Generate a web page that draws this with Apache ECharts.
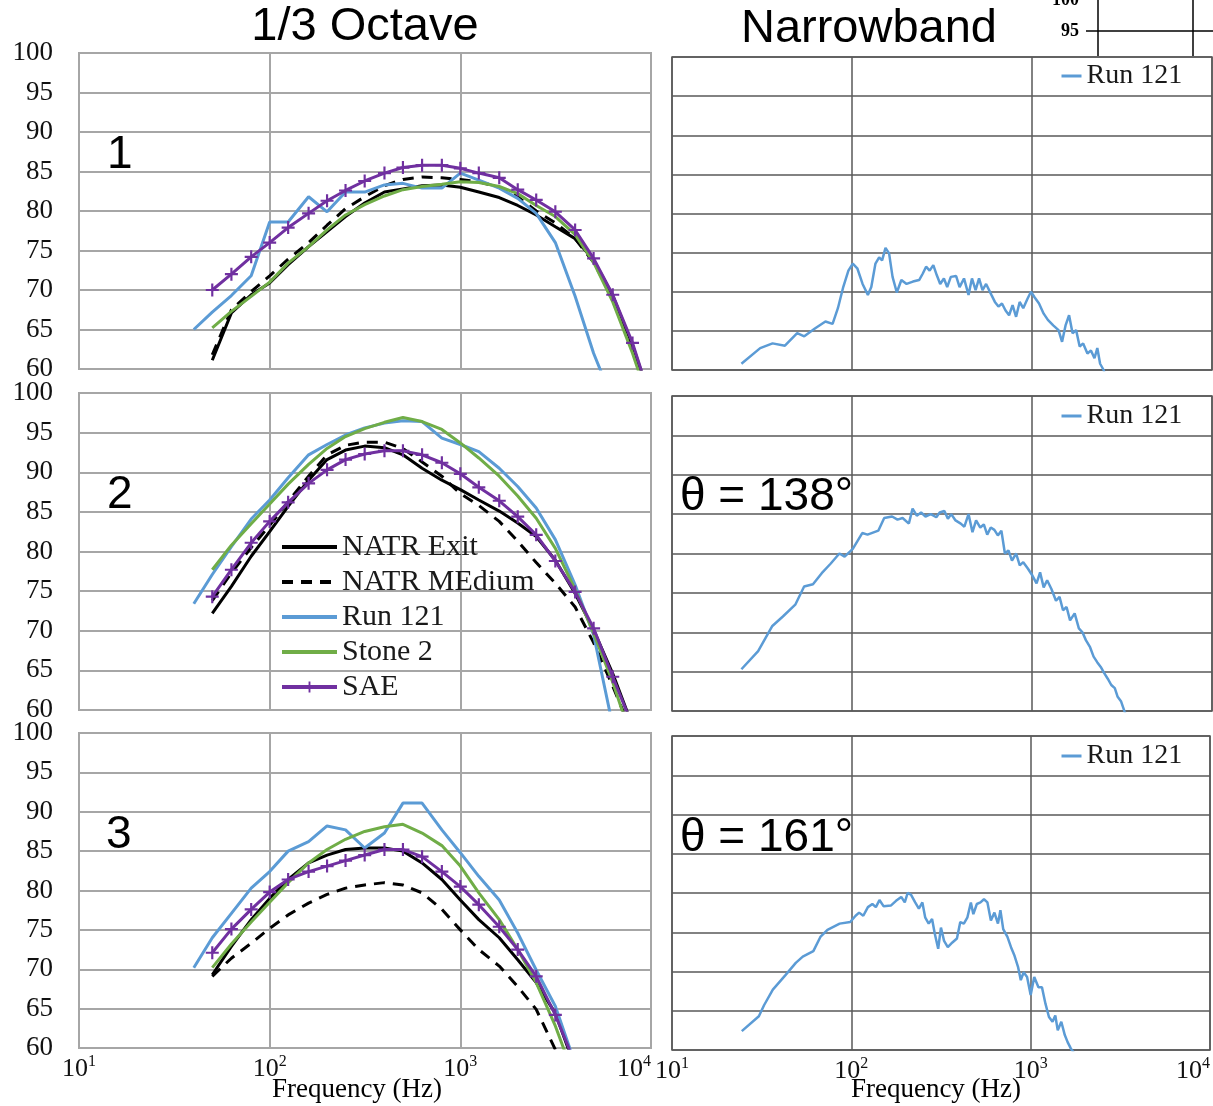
<!DOCTYPE html>
<html>
<head>
<meta charset="utf-8">
<script src="https://cdn.jsdelivr.net/npm/echarts@6/dist/echarts.min.js"></script>
<style>
  html, body { margin: 0; padding: 0; background: #fff; }
  #chart { width: 1213px; height: 1106px; }
</style>
</head>
<body>
<div id="chart"></div>
<script>
// 1/3 octave band centre frequencies (Hz)
const bands = [40, 50, 63, 80, 100, 125, 160, 200, 250, 315, 400, 500, 630, 800, 1000,
  1250, 1600, 2000, 2500, 3150, 4000, 5000, 6300, 8000, 10000];

// panel 1 (dB, null = no band value)
const natrExit1 = [null, 61.1, 67.1, 69.4, 70.9, 73.2, 75.5, 77.4, 79.3, 81.0, 82.4, 82.8, 83.2, 83.3, 83.0,
  82.4, 81.7, 80.7, 79.5, 78.0, 76.5, 73.8, 69.3, 63.0, 56.0];
const natrMedium1 = [null, 61.8, 67.5, 69.8, 71.8, 73.9, 76.0, 78.2, 80.3, 81.8, 83.2, 84.0, 84.3, 84.2, 84.0,
  83.7, 83.0, 81.8, 80.0, 78.5, 76.5, 73.5, 69.0, 62.5, 55.5];
const run121_1 = [65.0, 67.2, 69.3, 71.8, 78.6, 78.6, 81.8, 79.9, 82.4, 82.4, 83.3, 83.5, 82.9, 82.9, 84.8,
  83.9, 82.9, 81.6, 79.7, 76.0, 69.2, 62.0, 56.0, null, null];
const stone2_1 = [null, 65.2, 67.3, 69.2, 71.0, 73.4, 75.5, 77.6, 79.5, 80.8, 81.9, 82.7, 83.1, 83.4, 83.7,
  83.6, 83.1, 82.2, 80.7, 79.3, 77.0, 73.5, 68.5, 62.0, 55.0];
const sae1 = [null, 70.0, 72.0, 74.2, 76.0, 77.9, 79.7, 81.3, 82.6, 83.8, 84.8, 85.5, 85.8, 85.8, 85.4,
  84.8, 84.2, 82.7, 81.4, 79.9, 77.6, 74.0, 69.4, 63.3, 56.0];

// panel 2
const natrExit2 = [null, 72.2, 75.6, 79.4, 82.5, 85.7, 89.0, 91.6, 92.8, 93.3, 93.1, 92.2, 90.5, 89.0, 87.8,
  86.5, 85.1, 83.6, 81.9, 78.9, 74.7, 70.1, 64.6, 58.0, null];
const natrMedium2 = [null, 73.8, 77.3, 80.5, 83.3, 86.3, 89.5, 92.2, 93.4, 93.8, 93.8, 93.0, 91.3, 89.5, 87.3,
  85.8, 83.8, 81.3, 78.6, 76.0, 73.0, 68.5, 63.0, 57.0, null];
const run121_2 = [73.4, 77.1, 80.6, 84.1, 86.5, 89.3, 92.2, 93.5, 94.7, 95.6, 96.2, 96.5, 96.4, 94.3, 93.5,
  92.6, 90.5, 88.2, 85.5, 81.5, 75.8, 69.5, 58.0, null, null];
const stone2_2 = [null, 77.7, 80.8, 83.5, 86.0, 88.5, 91.0, 93.0, 94.5, 95.5, 96.3, 96.9, 96.4, 95.4, 93.7,
  91.8, 89.5, 87.0, 84.2, 80.4, 75.2, 69.7, 63.5, 56.0, null];
const sae2 = [null, 74.3, 77.7, 81.1, 83.8, 86.2, 88.6, 90.3, 91.6, 92.3, 92.7, 92.7, 92.2, 91.2, 89.8,
  88.1, 86.4, 84.4, 82.1, 78.8, 74.9, 70.3, 64.2, 58.0, null];

// panel 3
const natrExit3 = [null, 69.3, 72.9, 76.3, 79.0, 81.4, 83.5, 84.5, 85.2, 85.4, 85.4, 85.0, 83.5, 81.4, 78.8,
  76.3, 74.0, 71.2, 68.3, 64.4, 57.5, null, null, null, null];
const natrMedium3 = [null, 69.1, 71.4, 73.3, 75.2, 76.9, 78.4, 79.5, 80.3, 80.7, 81.0, 80.7, 79.7, 77.6, 75.0,
  72.5, 70.4, 67.8, 64.9, 59.8, 55.0, null, null, null, null];
const run121_3 = [70.2, 74.0, 77.1, 80.3, 82.4, 85.0, 86.2, 88.2, 87.7, 85.4, 87.3, 91.1, 91.1, 87.7, 84.8,
  81.8, 78.8, 74.6, 69.9, 65.3, 58.0, null, null, null, null];
const stone2_3 = [null, 70.2, 73.2, 76.0, 78.5, 81.0, 83.5, 85.2, 86.5, 87.5, 88.1, 88.4, 87.3, 85.7, 83.1,
  79.7, 76.3, 72.5, 68.3, 62.8, 56.0, null, null, null, null];
const sae3 = [null, 72.1, 75.1, 77.6, 79.8, 81.4, 82.4, 83.1, 83.8, 84.5, 85.2, 85.2, 84.3, 82.4, 80.5,
  78.2, 75.4, 72.5, 69.1, 64.2, 58.0, null, null, null, null];

// narrowband Run 121, panel 1
const nbFreq1 = [24.3, 30.9, 36.2, 42.4, 49.6, 54.3, 62.2, 71.2, 78, 83.5, 89.4, 95.5, 101, 107, 114.5, 122.5,
  128, 135, 141.5, 147, 153.5, 160.7, 168, 177.4, 188, 201, 218, 236, 247, 258, 270, 283, 296, 309, 324, 338,
  354, 379, 396, 419, 444, 464, 486, 508, 531, 556, 595, 622, 651, 681, 713, 746, 780, 816, 854, 894, 944,
  987, 1033, 1094, 1161, 1225, 1312, 1404, 1469, 1536, 1607, 1680, 1758, 1840, 1924, 2032, 2125, 2224, 2306,
  2390, 2500, 2600];
const nbLevel1 = [60.8, 62.8, 63.4, 63.1, 64.7, 64.3, 65.3, 66.2, 65.9, 67.9, 70.6, 72.7, 73.6, 73.0, 71.0, 69.6,
  70.6, 73.6, 74.4, 74.0, 75.6, 74.9, 71.9, 69.9, 71.5, 71.0, 71.3, 71.5, 72.3, 73.2, 72.7, 73.4, 72.1, 71.0,
  71.7, 70.6, 71.9, 72.0, 70.6, 71.7, 69.6, 71.7, 70.2, 71.7, 70.2, 71.0, 69.6, 68.7, 68.1, 68.5, 67.6, 67.0,
  68.3, 66.8, 68.7, 67.9, 69.1, 70.0, 69.3, 68.5, 67.2, 66.4, 65.7, 65.1, 63.6, 65.7, 67.0, 64.7, 65.1, 63.0,
  63.4, 62.1, 62.5, 61.5, 62.8, 60.8, 60.0, 58.5];

// narrowband Run 121, panel 2
const nbFreq2 = [24.3, 30.1, 36.1, 41.3, 48.4, 54.2, 60.7, 67.9, 76, 85.1, 91, 101, 114, 122, 140, 151, 167,
  179, 191, 207, 217, 229, 242, 256, 274, 294, 307, 326, 341, 356, 376, 402, 421, 444, 467, 489, 516, 540, 564,
  590, 618, 646, 676, 707, 740, 774, 816, 855, 894, 948, 1005, 1060, 1109, 1161, 1214, 1282, 1359, 1422, 1487,
  1556, 1627, 1726, 1821, 1906, 1992, 2102, 2199, 2302, 2409, 2519, 2635, 2757, 2884, 2991, 3128, 3272, 3400];
const nbLevel2 = [65.3, 67.6, 70.8, 72.0, 73.5, 75.8, 76.1, 77.5, 78.7, 80.0, 79.6, 80.6, 82.6, 82.4, 82.9, 84.5,
  84.7, 84.3, 84.5, 83.8, 85.7, 84.8, 85.2, 84.7, 85.0, 84.6, 85.2, 85.4, 84.4, 85.0, 84.2, 83.8, 83.4, 85.0,
  82.7, 84.2, 83.3, 83.7, 82.4, 83.3, 83.0, 82.3, 82.9, 80.0, 80.4, 79.1, 80.0, 78.5, 78.9, 78.1, 77.2, 76.2,
  77.6, 75.7, 76.6, 75.5, 74.0, 74.5, 72.8, 73.2, 71.5, 72.4, 70.5, 70.0, 69.0, 68.1, 66.9, 66.2, 65.6, 64.8,
  64.1, 63.3, 62.9, 61.8, 61.2, 59.9, 58.8];

// narrowband Run 121, panel 3
const nbFreq3 = [24.5, 30.5, 32.6, 36.5, 42.8, 49, 53.6, 61.4, 67.2, 73.6, 86.1, 98.6, 105.6, 110.5, 116.6,
  123.7, 131, 137, 143.5, 151.5, 166, 177.5, 189.8, 198.6, 206, 215, 227, 238, 249, 258, 270, 282, 292, 305,
  316, 329, 345, 366, 388, 405, 424, 444, 464, 479, 501, 525, 549, 574, 600, 628, 657, 678, 703, 742, 777,
  813, 850, 881, 914, 955, 1000, 1047, 1105, 1156, 1209, 1265, 1324, 1372, 1416, 1482, 1550, 1607, 1674, 1735,
  1800];
const nbLevel3 = [62.4, 64.3, 65.7, 67.7, 69.5, 71.1, 71.9, 72.6, 74.4, 75.3, 76.1, 76.3, 77.1, 77.5, 77.1, 78.2,
  78.6, 78.2, 79.1, 78.3, 78.4, 79.0, 79.5, 78.8, 80.0, 79.8, 78.8, 78.0, 78.8, 76.9, 76.1, 76.7, 74.8, 72.9,
  75.6, 73.9, 73.1, 73.7, 74.2, 76.3, 76.1, 76.9, 78.8, 77.3, 78.6, 78.8, 79.2, 78.8, 76.5, 77.5, 76.1, 77.8,
  75.4, 74.4, 73.1, 72.0, 70.6, 68.9, 69.9, 69.3, 67.0, 69.3, 68.0, 68.0, 65.9, 64.2, 63.6, 64.4, 62.5, 63.6,
  61.9, 61.0, 60.2, 59.7, 58.5];

const yTicks = [60, 65, 70, 75, 80, 85, 90, 95, 100];
const seriesNames = ['NATR Exit', 'NATR MEdium', 'Run 121', 'Stone 2', 'SAE'];

const SERIF = '"Liberation Serif", "Times New Roman", serif';
const SANS = '"Liberation Sans", Arial, sans-serif';
const BLUE = '#5b9bd5';
const PLUS = 'path://M5,0H7V5H12V7H7V12H5V7H0V5H5Z';
const NO_MARK = { color: 'rgba(0,0,0,0)', borderWidth: 0, opacity: 0 };

function pairs(xs, ys) {
  const out = [];
  for (let i = 0; i < xs.length; i++) {
    if (ys[i] !== null) out.push([xs[i], ys[i]]);
  }
  return out;
}

const leftGrids = [
  { left: 79, top: 53, width: 572, height: 316 },
  { left: 79, top: 393, width: 572, height: 317 },
  { left: 79, top: 733, width: 572, height: 315 }
];
const rightGrids = [
  { left: 672, top: 57, width: 540, height: 313 },
  { left: 672, top: 396, width: 540, height: 315 },
  { left: 672, top: 736, width: 540, height: 314 }
];

const grid = [];
const xAxis = [];
const yAxis = [];
const series = [];

function addPanel(g, idx, isLeft, bottom) {
  const lineColor = isLeft ? '#a6a6a6' : '#595959';
  const lineWidth = isLeft ? 2 : 1.5;
  grid.push(Object.assign({ show: true, borderColor: lineColor, borderWidth: lineWidth }, g));
  xAxis.push({
    type: 'log', logBase: 10, min: 10, max: 10000, gridIndex: idx,
    axisLine: { show: false }, axisTick: { show: false },
    splitLine: { show: true, lineStyle: { color: lineColor, width: lineWidth } },
    axisLabel: {
      show: bottom, margin: 6, color: '#111',
      alignMaxLabel: 'right',
      formatter: v => '{b|10}{s|' + Math.round(Math.log10(v)) + '}',
      rich: {
        b: { fontFamily: SERIF, fontSize: 26, color: '#111' },
        s: { fontFamily: SERIF, fontSize: 16, color: '#111', padding: [0, 0, 14, 0] }
      }
    }
  });
  yAxis.push({
    type: 'value', min: 60, max: 100, interval: 5, gridIndex: idx,
    axisLine: { show: false }, axisTick: { show: false },
    splitLine: { show: true, lineStyle: { color: lineColor, width: lineWidth } },
    axisLabel: {
      show: isLeft, margin: 26, color: '#111', fontFamily: SERIF, fontSize: 27,
      formatter: v => (yTicks.indexOf(v) >= 0 ? String(v) : '')
    }
  });
}

function octaveSeries(idx, exit, medium, run, stone, sae) {
  const base = { type: 'line', xAxisIndex: idx, yAxisIndex: idx, symbol: 'none', clip: true, animation: false };
  series.push(Object.assign({}, base, { name: seriesNames[0], data: pairs(bands, exit),
    lineStyle: { color: '#000', width: 3 }, itemStyle: { color: '#000' } }));
  series.push(Object.assign({}, base, { name: seriesNames[1], data: pairs(bands, medium),
    lineStyle: { color: '#000', width: 3, type: [11, 8] }, itemStyle: { color: '#000' } }));
  series.push(Object.assign({}, base, { name: seriesNames[2], data: pairs(bands, run),
    lineStyle: { color: BLUE, width: 3 }, itemStyle: { color: BLUE } }));
  series.push(Object.assign({}, base, { name: seriesNames[3], data: pairs(bands, stone),
    lineStyle: { color: '#70ad47', width: 3 }, itemStyle: { color: '#70ad47' } }));
  series.push(Object.assign({}, base, { name: seriesNames[4], data: pairs(bands, sae),
    symbol: PLUS, symbolSize: 13, showSymbol: true,
    lineStyle: { color: '#7030a0', width: 3 }, itemStyle: { color: '#7030a0' } }));
}

function narrowSeries(idx, fs, ls) {
  series.push({
    type: 'line', name: 'Run 121', xAxisIndex: idx, yAxisIndex: idx, symbol: 'none', clip: true,
    animation: false, data: pairs(fs, ls),
    lineStyle: { color: BLUE, width: 2.5 }, itemStyle: { color: BLUE }
  });
}

leftGrids.forEach((g, i) => addPanel(g, i, true, i === 2));
rightGrids.forEach((g, i) => addPanel(g, i + 3, false, i === 2));
octaveSeries(0, natrExit1, natrMedium1, run121_1, stone2_1, sae1);
octaveSeries(1, natrExit2, natrMedium2, run121_2, stone2_2, sae2);
octaveSeries(2, natrExit3, natrMedium3, run121_3, stone2_3, sae3);
narrowSeries(3, nbFreq1, nbLevel1);
narrowSeries(4, nbFreq2, nbLevel2);
narrowSeries(5, nbFreq3, nbLevel3);

const legend = [{
  data: seriesNames.map(n => (n === 'SAE' ? { name: n } : { name: n, itemStyle: NO_MARK })),
  orient: 'vertical', left: 280, top: 532, padding: 0,
  itemWidth: 55, itemHeight: 14, itemGap: 5, selectedMode: false,
  lineStyle: { width: 4 },
  textStyle: { fontFamily: SERIF, fontSize: 30, lineHeight: 30, color: '#1a1a1a' }
}];
[62, 402, 742].forEach(t => legend.push({
  data: [{ name: 'Run 121', itemStyle: NO_MARK }], left: 1060, top: t, padding: 0,
  itemWidth: 20, itemHeight: 12, selectedMode: false,
  lineStyle: { width: 3 },
  textStyle: { fontFamily: SERIF, fontSize: 28, lineHeight: 28, color: '#1a1a1a' }
}));

function label(text, x, y, font, align) {
  return { type: 'text', silent: true, z: 50,
    style: { text: text, x: x, y: y, font: font, fill: '#000', textAlign: align || 'center', textVerticalAlign: 'middle' } };
}

const graphic = [
  label('1/3 Octave', 365, 27, '47px ' + SANS),
  label('Narrowband', 869, 29, '47px ' + SANS),
  label('1', 107, 155, '46px ' + SANS, 'left'),
  label('2', 107, 495, '46px ' + SANS, 'left'),
  label('3', 106, 835, '46px ' + SANS, 'left'),
  label('θ = 138°', 680, 497, '46px ' + SANS, 'left'),
  label('θ = 161°', 680, 838, '46px ' + SANS, 'left'),
  label('Frequency (Hz)', 357, 1090, '27px ' + SERIF),
  label('Frequency (Hz)', 936, 1090, '27px ' + SERIF),
  // cropped corner of a neighbouring chart
  label('95', 1079, 31, 'bold 18px ' + SERIF, 'right'),
  label('100', 1079, 0, 'bold 18px ' + SERIF, 'right'),
  { type: 'line', silent: true, shape: { x1: 1098, y1: 0, x2: 1098, y2: 56 }, style: { stroke: '#000', lineWidth: 1.5 } },
  { type: 'line', silent: true, shape: { x1: 1193, y1: 0, x2: 1193, y2: 56 }, style: { stroke: '#000', lineWidth: 1.5 } },
  { type: 'line', silent: true, shape: { x1: 1086, y1: 31, x2: 1213, y2: 31 }, style: { stroke: '#000', lineWidth: 1.5 } }
];

const chart = echarts.init(document.getElementById('chart'), null, { renderer: 'canvas' });
chart.setOption({
  backgroundColor: '#fff',
  animation: false,
  grid: grid,
  xAxis: xAxis,
  yAxis: yAxis,
  legend: legend,
  series: series,
  graphic: graphic
});
</script>
</body>
</html>
